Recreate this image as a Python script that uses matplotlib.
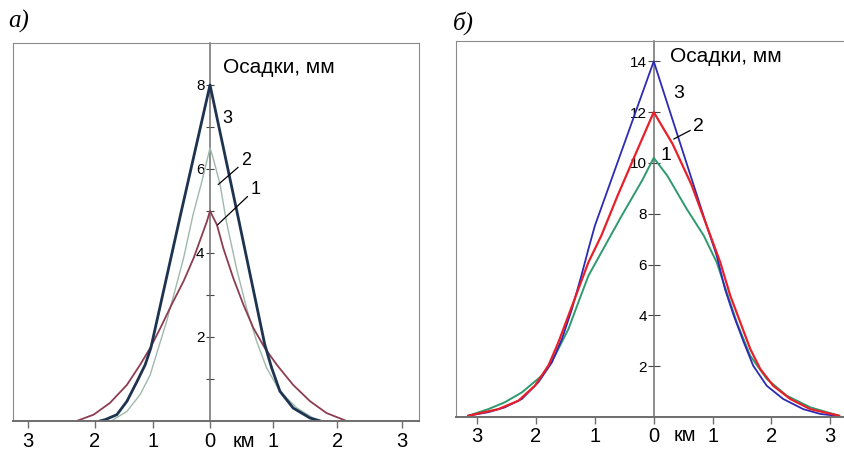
import matplotlib
matplotlib.use('Agg')
import matplotlib.pyplot as plt
import matplotlib.transforms as mtransforms

plt.rcParams['font.family'] = ['Liberation Sans', 'DejaVu Sans']

# ---- panel а): settlements (mm) vs distance (km) ----
a_x1 = [-2.12, -1.85, -1.59, -1.32, -1.11, -0.95, -0.79, -0.61, -0.42, -0.26, -0.05, 0.0,
        0.11, 0.21, 0.37, 0.53, 0.69, 0.87, 1.06, 1.32, 1.59, 1.85, 2.17]
a_y1 = [0.0, 0.15, 0.43, 0.86, 1.34, 1.74, 2.21, 2.77, 3.33, 3.88, 4.75, 5.0,
        4.67, 4.12, 3.4, 2.77, 2.21, 1.74, 1.34, 0.86, 0.47, 0.19, 0.0]
a_x2 = [-1.57, -1.32, -1.11, -0.95, -0.82, -0.69, -0.56, -0.42, -0.27, -0.13, 0.0,
        0.05, 0.16, 0.26, 0.42, 0.58, 0.74, 0.9, 1.11, 1.38, 1.64, 1.78]
a_y2 = [0.0, 0.23, 0.63, 1.1, 1.74, 2.37, 3.09, 3.88, 4.91, 5.7, 6.5,
        6.26, 5.63, 4.75, 3.64, 2.69, 1.9, 1.26, 0.71, 0.31, 0.07, 0.0]
a_x3 = [-1.75, -1.67, -1.48, -1.32, -1.16, -1.03, -0.94, -0.47, 0.0,
        0.44, 0.87, 0.98, 1.11, 1.32, 1.59, 1.75]
a_y3 = [0.0, 0.03, 0.15, 0.47, 0.94, 1.34, 1.74, 4.9, 8.0,
        4.9, 1.82, 1.26, 0.71, 0.31, 0.07, 0.0]
a_xticks = [-2.89, -1.83, -0.9, 0.0, 1.0, 2.02, 3.05]
a_xlabels = ['3', '2', '1', '0', '1', '2', '3']
a_yticks = [1, 2, 3, 4, 5, 6, 7, 8]
a_ylabels = ['', '2', '', '4', '', '6', '', '8']

# ---- panel б) ----
b_x1 = [-3.15, -2.81, -2.53, -2.24, -1.9, -1.68, -1.45, -1.28, -1.11, -0.89, -0.55, -0.2, 0.0,
        0.23, 0.56, 0.85, 1.07, 1.24, 1.41, 1.64, 1.92, 2.26, 2.66, 3.15]
b_y1 = [0.05, 0.31, 0.58, 0.97, 1.63, 2.41, 3.46, 4.52, 5.56, 6.48, 7.9, 9.3, 10.2,
        9.5, 8.19, 7.14, 6.09, 4.91, 3.73, 2.41, 1.5, 0.84, 0.38, 0.05]
b_x2 = [-3.15, -2.64, -2.3, -2.02, -1.79, -1.62, -1.45, -1.28, -1.11, -0.89, -0.62, -0.3, 0.0,
        0.32, 0.64, 0.9, 1.13, 1.3, 1.47, 1.64, 1.81, 2.03, 2.32, 2.66, 3.15]
b_y2 = [0.05, 0.31, 0.64, 1.23, 2.02, 2.94, 3.99, 5.04, 6.09, 7.14, 8.68, 10.4, 12.0,
        10.75, 9.15, 7.53, 6.09, 4.78, 3.73, 2.68, 1.89, 1.23, 0.71, 0.31, 0.05]
b_x3 = [-3.15, -2.81, -2.53, -2.24, -1.96, -1.73, -1.56, -1.39, -1.23, -1.11, -1.0, 0.0,
        0.9, 1.07, 1.21, 1.36, 1.53, 1.69, 1.92, 2.2, 2.54, 2.83, 3.1]
b_y3 = [0.05, 0.19, 0.38, 0.71, 1.37, 2.15, 3.07, 4.25, 5.56, 6.61, 7.53, 14.0,
        7.53, 6.35, 5.04, 3.99, 2.94, 2.02, 1.23, 0.71, 0.31, 0.12, 0.05]
b_xticks = [-3, -2, -1, 0, 1, 2, 3]
b_xlabels = ['3', '2', '1', '0', '1', '2', '3']
b_yticks = [2, 4, 6, 8, 10, 12, 14]
b_ylabels = ['2', '4', '6', '8', '10', '12', '14']

AXCOL = '#6e6e6e'


def setup(ax, xlim, ylim, xticks, xlabels, yticks, ylabels, ylen, xpad):
    ax.set_xlim(*xlim)
    ax.set_ylim(*ylim)
    for s in ax.spines.values():
        s.set_color('#8a8a8a')
        s.set_linewidth(0.8)
    ax.spines['bottom'].set_linewidth(1.4)
    ax.spines['bottom'].set_color(AXCOL)
    ax.set_yticks([])
    ax.set_xticks(xticks, xlabels, fontsize=14.5)
    ax.tick_params(axis='x', direction='out', length=5, width=1, color=AXCOL, pad=xpad)
    sec = ax.secondary_yaxis(0, transform=ax.transData)
    sec.spines['left'].set_color(AXCOL)
    sec.spines['left'].set_linewidth(1.1)
    sec.set_yticks(yticks, ylabels, fontsize=11)
    sec.tick_params(direction='inout', length=ylen, width=0.8, color='#444444', pad=1)
    return sec


fig = plt.figure(figsize=(8.45, 4.51), dpi=100)

# panel а
ax1 = fig.add_axes([13 / 845, 30 / 451, 406 / 845, 378 / 451])
setup(ax1, (-3.13, 3.32), (0, 9.0), a_xticks, a_xlabels, a_yticks, a_ylabels, 6, 3)
ax1.plot(a_x2, a_y2, color='#9fb8ab', lw=1.0)
ax1.plot(a_x1, a_y1, color='#8c3d52', lw=1.3)
ax1.plot(a_x3, a_y3, color='#1e3350', lw=2.0)
ax1.text(0.21, 8.42, 'Осадки, мм', fontsize=15, ha='left', va='center')
ax1.text(0.28, 7.2, '3', fontsize=13, ha='center', va='center')
ax1.annotate('2', xy=(0.13, 5.63), xytext=(0.57, 6.2), fontsize=13, ha='center', va='center',
             arrowprops=dict(arrowstyle='-', lw=0.9, color='black', shrinkA=0, shrinkB=0))
ax1.annotate('1', xy=(0.12, 4.67), xytext=(0.72, 5.52), fontsize=13, ha='center', va='center',
             arrowprops=dict(arrowstyle='-', lw=0.9, color='black', shrinkA=0, shrinkB=0))
tr1 = mtransforms.blended_transform_factory(ax1.transData, ax1.transAxes)
ax1.text(0.54, -0.069, 'км', fontsize=14.5, ha='center', va='baseline', transform=tr1)

# panel б
ax2 = fig.add_axes([456 / 845, 34 / 451, 389 / 845, 376 / 451])
setup(ax2, (-3.36, 3.25), (0, 14.8), b_xticks, b_xlabels, b_yticks, b_ylabels, 8, 2)
ax2.spines['right'].set_visible(False)
ax2.plot(b_x1, b_y1, color='#2e9a6e', lw=1.4)
ax2.plot(b_x3, b_y3, color='#2b2bb5', lw=1.3)
ax2.plot(b_x2, b_y2, color='#e8202a', lw=1.6)
ax2.text(0.27, 14.2, 'Осадки, мм', fontsize=15, ha='left', va='center')
ax2.text(0.42, 12.72, '3', fontsize=14, ha='center', va='center')
ax2.annotate('2', xy=(0.34, 10.94), xytext=(0.76, 11.45), fontsize=14, ha='center', va='center',
             arrowprops=dict(arrowstyle='-', lw=0.9, color='black', shrinkA=0, shrinkB=0))
ax2.text(0.2, 10.3, '1', fontsize=14, ha='center', va='center')
tr2 = mtransforms.blended_transform_factory(ax2.transData, ax2.transAxes)
ax2.text(0.53, -0.064, 'км', fontsize=14.5, ha='center', va='baseline', transform=tr2)

fig.text(8 / 845, 1 - 28 / 451, 'а)', fontsize=18, family='Liberation Serif', style='italic',
         va='baseline', ha='left')
fig.text(453 / 845, 1 - 30 / 451, 'б)', fontsize=18, family='Liberation Serif', style='italic',
         va='baseline', ha='left')

fig.savefig('out.png', dpi=100)
